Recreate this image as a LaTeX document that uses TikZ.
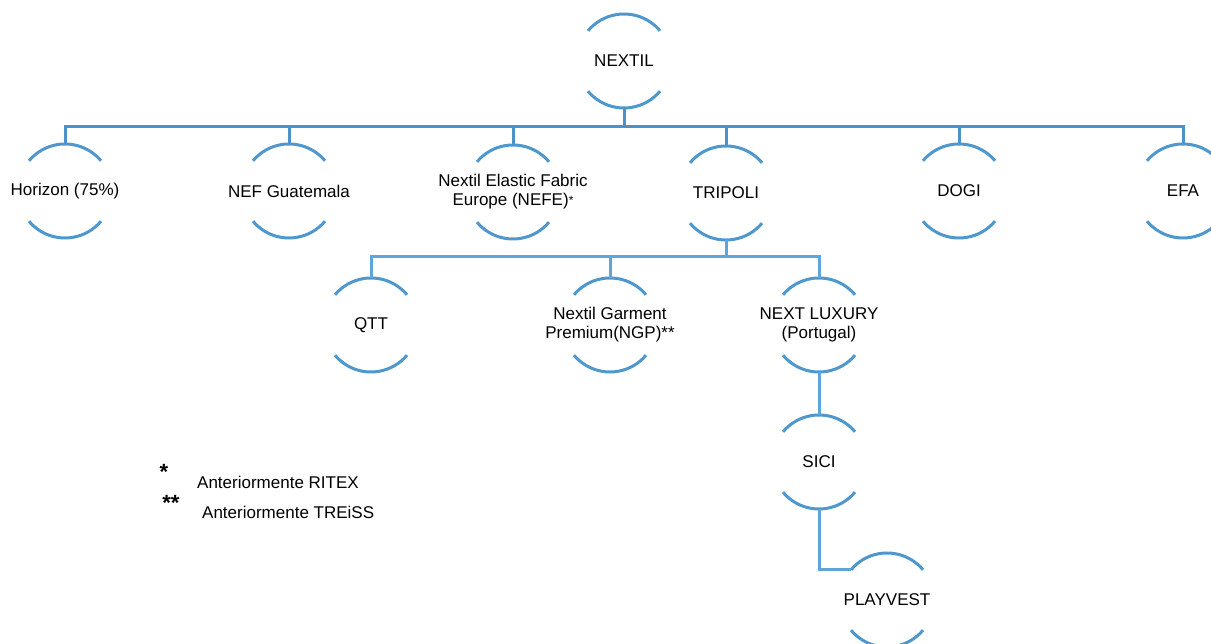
\documentclass[tikz,border=0pt]{standalone}
\usepackage{fontspec}
\setmainfont{Liberation Sans}
\usetikzlibrary{calc}
\definecolor{arcblue}{RGB}{78,152,206}
\definecolor{barblue}{RGB}{74,146,200}
\definecolor{lightblue}{RGB}{92,166,220}
\tikzset{
  org/.style={rectangle, inner sep=0pt, draw=none, align=center,
    font=\fontsize{17}{19}\selectfont},
  caparc/.style={draw=arcblue, line width=3pt},
  lvlone/.style={draw=barblue, line width=3pt},
  lvltwo/.style={draw=lightblue, line width=3pt},
  legend/.style={anchor=west, inner sep=0pt, font=\fontsize{17}{19}\selectfont},
  star/.style={inner sep=0pt, font=\fontsize{22}{22}\selectfont\bfseries}
}
\newcommand\orgcaps[1]{%
  \coordinate (#1-t) at ($(#1.center)+(0,47)$);
  \coordinate (#1-b) at ($(#1.center)+(0,-47)$);
  \coordinate (#1-tl) at ($(#1.center)+(140:47)$);
  \draw[caparc] ($(#1.center)+(40:47)$) arc[start angle=40, end angle=140, radius=47pt];
  \draw[caparc] ($(#1.center)+(220:47)$) arc[start angle=220, end angle=320, radius=47pt];}
\begin{document}
\begin{tikzpicture}[x=1pt, y=1pt]
\useasboundingbox (0,0) rectangle (1211,644);
\clip (0,0) rectangle (1211,644);
% nodes
\node[org] (nextil) at (624,583) {NEXTIL};
\node[org] (horizon) at (65,453) {Horizon (75\%)};
\node[org] (nefg) at (289,453) {NEF Guatemala};
\node[org] (nefe) at (513,452) {Nextil Elastic Fabric\\Europe (NEFE)\raisebox{1pt}{\fontsize{12}{12}\selectfont*}};
\node[org] (tripoli) at (726,451) {TRIPOLI};
\node[org] (dogi) at (959,453) {DOGI};
\node[org] (efa) at (1183,453) {EFA};
\node[org] (qtt) at (371,319) {QTT};
\node[org] (ngp) at (610,319) {Nextil Garment\\Premium(NGP)**};
\node[org] (nlux) at (819,319) {NEXT LUXURY\\(Portugal)};
\node[org] (sici) at (819,182) {SICI};
\node[org] (playvest) at (887,44) {PLAYVEST};
\foreach \n in {nextil,horizon,nefg,nefe,tripoli,dogi,efa,qtt,ngp,nlux,sici,playvest}{\orgcaps{\n}}
% level 1 connectors
\coordinate (bar1) at (624,517);
\draw[lvlone] (nextil-b) -- (bar1);
\draw[lvlone] (horizon-t) -- (horizon-t |- bar1) -- (efa-t |- bar1) -- (efa-t);
\foreach \n in {nefg,nefe,tripoli,dogi}{\draw[lvlone] (\n-t) -- (\n-t |- bar1);}
% level 2 connectors
\coordinate (bar2) at (726,387);
\draw[lvltwo] (tripoli-b) -- (bar2);
\draw[lvltwo] (qtt-t) -- (qtt-t |- bar2) -- (nlux-t |- bar2) -- (nlux-t);
\draw[lvltwo] (ngp-t) -- (ngp-t |- bar2);
\draw[lvltwo] (nlux-b) -- (sici-t);
\draw[lvltwo] (sici-b) |- (playvest-tl);
% legend
\node[star] (s1) at (164,172) {*};
\node[legend] (l1) at (197,162) {Anteriormente RITEX};
\node[star] (s2) at (171,141) {**};
\node[legend] (l2) at (202,132) {Anteriormente TREiSS};
\end{tikzpicture}
\end{document}
